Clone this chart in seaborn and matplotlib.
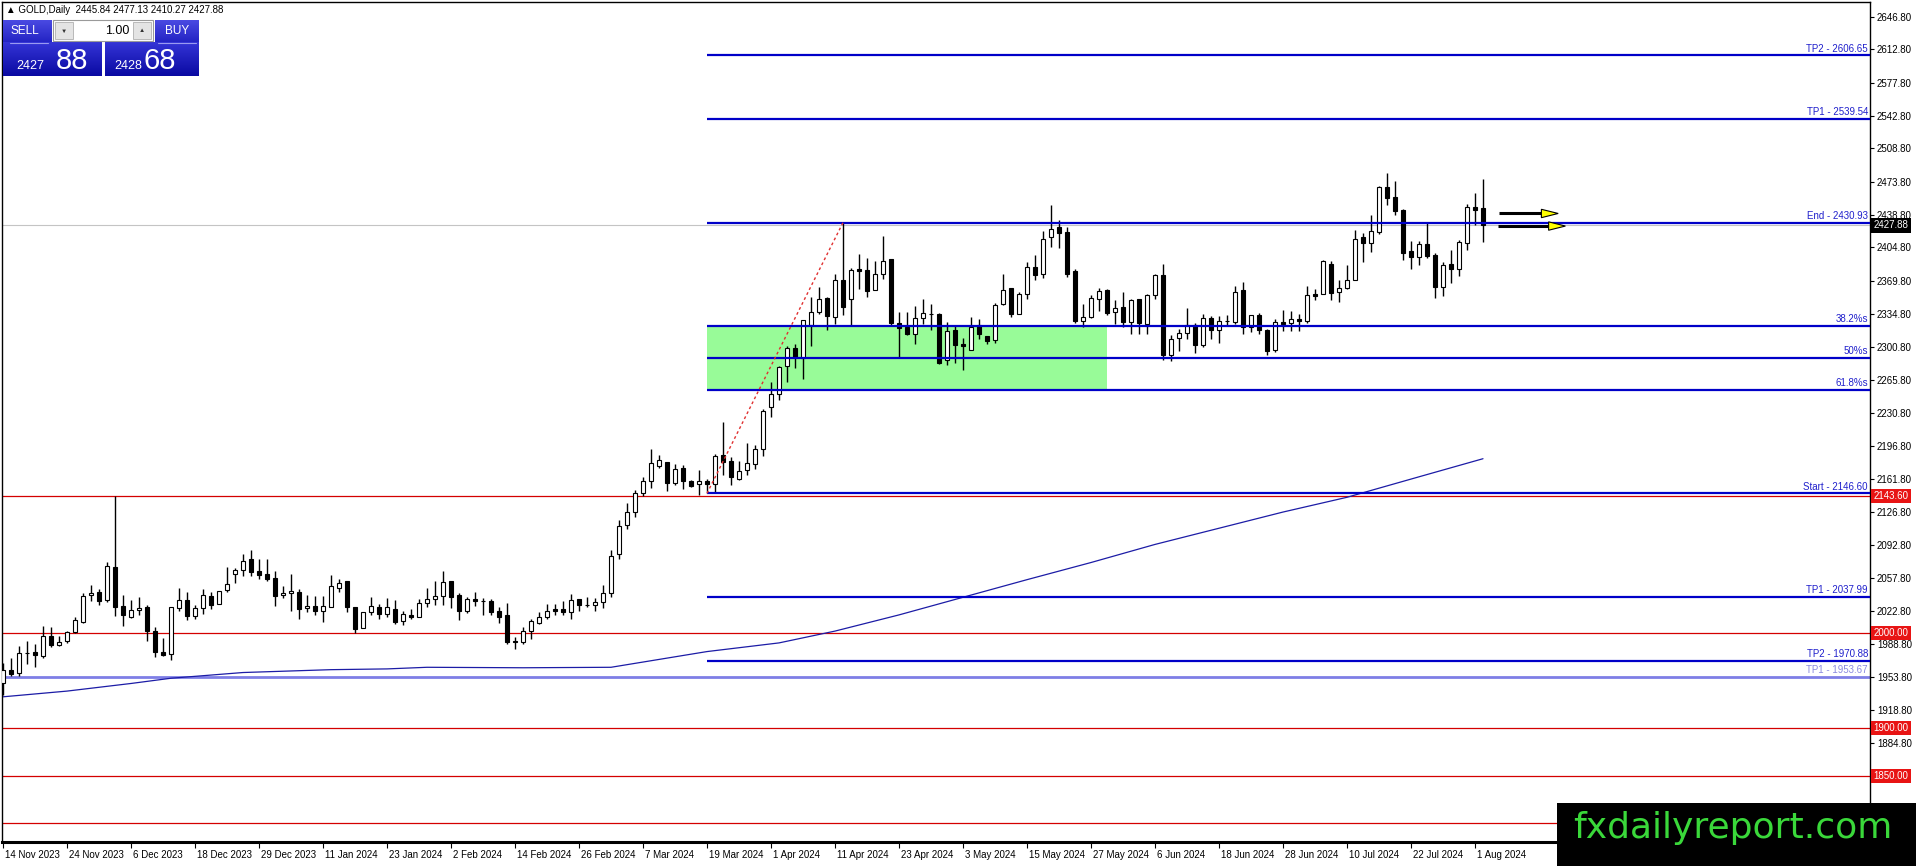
import numpy as np
import matplotlib
matplotlib.use('Agg')
import matplotlib.pyplot as plt
from matplotlib.patches import Rectangle, Polygon
from matplotlib.colors import LinearSegmentedColormap
import matplotlib.transforms as mtransforms
import seaborn as sns

# ---------------- data ----------------
opens = [1947.0, 1961.2, 1957.7, 1979.5, 1979.8, 1975.6, 1997.3, 1987.5, 1991.3, 2000.8,
         2012.0, 2040.0, 2043.5, 2034.8, 2069.8, 2028.5, 2017.3, 2023.9, 2027.8, 2002.2,
         1980.5, 1978.0, 2026.0, 2035.1, 2018.0, 2026.7, 2039.3, 2030.6, 2045.3, 2061.8,
         2066.0, 2077.2, 2064.9, 2062.1, 2057.9, 2039.7, 2042.2, 2043.5, 2026.4, 2028.8,
         2022.9, 2027.1, 2047.1, 2054.1, 2027.8, 2005.0, 2022.0, 2027.8, 2020.1, 2025.0,
         2012.1, 2019.0, 2017.0, 2031.4, 2035.5, 2039.0, 2054.1, 2040.1, 2022.6, 2035.2,
         2034.1, 2034.1, 2022.6, 2019.4, 1992.1, 1990.3, 2002.3, 2010.3, 2016.6, 2024.7,
         2024.7, 2022.2, 2035.2, 2029.6, 2029.1, 2032.7, 2042.2, 2083.2, 2113.7, 2127.3,
         2146.9, 2159.2, 2175.7, 2179.9, 2157.8, 2173.5, 2159.5, 2156.7, 2159.9, 2156.7,
         2186.5, 2180.2, 2162.0, 2170.7, 2177.8, 2193.5, 2237.3, 2250.6, 2280.0, 2299.7,
         2289.2, 2323.1, 2337.1, 2352.2, 2331.9, 2371.1, 2351.1, 2382.0, 2381.6, 2359.9,
         2377.4, 2392.5, 2325.6, 2321.4, 2313.7, 2331.2, 2334.7, 2334.7, 2286.4, 2318.6,
         2303.2, 2297.6, 2323.1, 2312.3, 2308.1, 2345.9, 2362.7, 2335.4, 2356.4, 2384.4,
         2376.7, 2416.0, 2425.8, 2421.2, 2379.9, 2327.7, 2331.9, 2351.2, 2359.9, 2337.5,
         2342.4, 2326.6, 2350.5, 2324.9, 2354.6, 2375.6, 2291.6, 2309.8, 2315.1, 2323.8,
         2302.8, 2331.2, 2317.9, 2327.3, 2326.6, 2359.9, 2321.4, 2333.6, 2318.6, 2296.8,
         2326.9, 2325.6, 2330.1, 2327.7, 2355.7, 2356.4, 2387.9, 2358.1, 2362.7, 2370.4,
         2415.9, 2409.6, 2421.2, 2468.5, 2458.0, 2444.0, 2401.2, 2394.9, 2408.2, 2396.7,
         2363.4, 2387.2, 2382.7, 2409.6, 2446.8, 2445.84]
highs = [1969.0, 1973.8, 1986.8, 1992.1, 1988.6, 2007.1, 2006.1, 1997.3, 2002.6, 2017.3,
         2042.5, 2050.9, 2046.4, 2074.4, 2143.4, 2040.0, 2034.8, 2038.3, 2029.9, 2006.8,
         1994.9, 2027.4, 2047.1, 2043.2, 2029.9, 2046.4, 2042.9, 2044.2, 2069.8, 2068.4,
         2083.1, 2087.3, 2078.2, 2078.2, 2064.9, 2049.5, 2062.1, 2046.4, 2040.0, 2039.3,
         2039.0, 2061.4, 2057.2, 2054.1, 2027.8, 2022.2, 2038.3, 2030.6, 2036.9, 2034.8,
         2023.6, 2025.0, 2035.9, 2047.4, 2055.1, 2064.6, 2054.1, 2041.8, 2038.3, 2042.9,
         2036.9, 2035.9, 2027.1, 2031.3, 1995.6, 2006.1, 2014.9, 2021.9, 2030.6, 2030.6,
         2034.1, 2041.1, 2035.9, 2037.6, 2036.9, 2050.6, 2087.4, 2118.9, 2136.4, 2150.4,
         2163.8, 2193.5, 2186.5, 2179.9, 2177.8, 2176.0, 2160.2, 2171.5, 2161.6, 2187.6,
         2221.5, 2184.8, 2180.2, 2199.5, 2197.0, 2235.0, 2263.6, 2280.0, 2301.0, 2303.9,
         2329.0, 2352.9, 2363.4, 2353.0, 2376.7, 2430.93, 2383.0, 2397.7, 2394.2, 2390.7,
         2416.7, 2392.5, 2336.8, 2336.8, 2343.4, 2351.2, 2345.9, 2335.5, 2326.6, 2323.1,
         2310.2, 2331.9, 2329.4, 2312.3, 2346.6, 2377.4, 2362.7, 2358.2, 2389.7, 2396.7,
         2422.3, 2449.2, 2433.5, 2426.5, 2382.7, 2345.9, 2354.7, 2362.7, 2361.3, 2350.1,
         2358.2, 2350.5, 2350.5, 2356.4, 2377.4, 2387.2, 2312.6, 2319.6, 2341.0, 2325.9,
         2335.4, 2332.6, 2332.6, 2333.6, 2364.1, 2368.6, 2334.3, 2336.1, 2319.3, 2330.1,
         2338.9, 2338.2, 2335.4, 2364.1, 2361.6, 2392.1, 2390.7, 2370.4, 2386.2, 2423.6,
         2420.1, 2438.7, 2469.2, 2483.2, 2474.8, 2444.7, 2411.7, 2411.7, 2430.6, 2399.1,
         2389.7, 2401.9, 2412.4, 2450.3, 2461.5, 2477.13]
lows = [1935.0, 1955.3, 1955.3, 1967.5, 1964.0, 1974.0, 1985.1, 1986.8, 1989.6, 1999.8,
        2010.3, 2033.4, 2029.9, 2032.3, 2018.3, 2007.8, 2015.5, 2018.7, 1992.1, 1974.6,
        1975.6, 1971.7, 2022.9, 2013.8, 2014.8, 2020.1, 2025.7, 2030.6, 2043.5, 2052.3,
        2059.7, 2059.7, 2056.2, 2054.4, 2028.8, 2036.5, 2023.2, 2014.8, 2021.8, 2019.0,
        2011.3, 2027.1, 2043.5, 2022.5, 1999.8, 2005.0, 2019.0, 2014.8, 2017.3, 2009.6,
        2007.9, 2014.9, 2016.6, 2027.1, 2028.9, 2028.9, 2026.4, 2013.8, 2021.2, 2028.5,
        2019.4, 2019.4, 2010.7, 1988.6, 1983.3, 1988.6, 1993.8, 2009.6, 2014.9, 2018.4,
        2018.4, 2014.9, 2022.9, 2027.8, 2022.9, 2026.4, 2038.3, 2077.2, 2108.7, 2121.7,
        2143.4, 2152.5, 2173.5, 2149.0, 2155.0, 2150.8, 2153.2, 2144.5, 2146.6, 2148.0,
        2165.5, 2155.0, 2160.2, 2165.5, 2172.5, 2185.8, 2226.8, 2244.3, 2263.6, 2278.6,
        2267.1, 2301.1, 2335.4, 2318.6, 2324.9, 2333.6, 2323.1, 2361.0, 2352.9, 2359.9,
        2371.8, 2322.0, 2289.9, 2313.0, 2303.9, 2324.9, 2317.9, 2282.8, 2281.1, 2283.5,
        2275.8, 2297.6, 2308.8, 2303.2, 2304.9, 2344.1, 2331.9, 2334.7, 2351.2, 2370.4,
        2373.2, 2405.4, 2404.7, 2373.9, 2325.6, 2321.4, 2331.2, 2338.2, 2333.6, 2324.9,
        2321.4, 2313.7, 2314.4, 2314.4, 2351.1, 2286.3, 2285.6, 2296.1, 2309.1, 2294.0,
        2300.3, 2309.1, 2304.5, 2323.1, 2324.9, 2314.4, 2316.1, 2314.4, 2291.6, 2295.1,
        2317.2, 2317.2, 2317.2, 2325.6, 2349.4, 2355.7, 2349.4, 2347.6, 2361.6, 2370.4,
        2389.7, 2400.2, 2418.7, 2449.2, 2438.7, 2392.1, 2382.7, 2386.2, 2394.2, 2352.2,
        2353.6, 2367.6, 2374.6, 2401.9, 2428.2, 2410.27]
closes = [1961.0, 1957.0, 1979.1, 1978.5, 1977.0, 1997.3, 1987.5, 1991.0, 2000.8, 2013.8,
          2039.0, 2042.5, 2033.4, 2070.5, 2027.1, 2018.7, 2024.6, 2026.7, 2001.9, 1979.8,
          1977.0, 2027.4, 2035.1, 2018.0, 2026.4, 2039.7, 2029.2, 2044.2, 2051.6, 2066.3,
          2075.8, 2063.9, 2060.7, 2057.2, 2039.3, 2042.2, 2044.6, 2025.7, 2028.8, 2022.9,
          2028.5, 2049.5, 2053.0, 2027.1, 2004.0, 2022.2, 2028.1, 2020.1, 2027.8, 2011.4,
          2020.1, 2016.6, 2031.7, 2035.9, 2039.0, 2053.4, 2037.6, 2022.9, 2035.9, 2033.4,
          2033.8, 2022.2, 2017.3, 1990.3, 1990.7, 2002.6, 2012.1, 2017.3, 2022.6, 2022.9,
          2021.9, 2034.8, 2029.6, 2029.4, 2032.7, 2042.2, 2081.1, 2112.6, 2126.6, 2146.9,
          2159.2, 2178.1, 2182.0, 2157.8, 2172.5, 2159.5, 2153.9, 2159.2, 2156.0, 2185.5,
          2179.5, 2163.7, 2169.7, 2178.8, 2193.5, 2232.7, 2250.6, 2279.3, 2299.7, 2289.9,
          2328.4, 2337.1, 2351.2, 2332.6, 2371.1, 2342.4, 2381.6, 2380.2, 2359.2, 2377.4,
          2390.7, 2325.6, 2320.7, 2314.4, 2331.2, 2336.1, 2334.5, 2283.9, 2317.2, 2302.1,
          2301.1, 2321.4, 2313.7, 2306.7, 2344.8, 2359.9, 2335.4, 2356.4, 2384.4, 2375.7,
          2414.2, 2424.7, 2419.5, 2377.4, 2327.7, 2331.9, 2352.2, 2359.2, 2336.1, 2341.3,
          2326.6, 2349.4, 2325.9, 2354.6, 2375.6, 2291.6, 2309.1, 2315.4, 2323.8, 2302.8,
          2331.2, 2317.9, 2327.7, 2327.7, 2358.1, 2321.4, 2333.6, 2318.6, 2296.1, 2326.6,
          2324.9, 2330.1, 2327.7, 2354.6, 2354.3, 2390.4, 2357.1, 2362.7, 2370.4, 2414.2,
          2409.6, 2421.9, 2468.5, 2456.9, 2443.3, 2399.1, 2394.9, 2408.2, 2395.6, 2363.4,
          2386.2, 2382.3, 2410.7, 2446.8, 2444.0, 2427.88]

# moving average read at a set of bar positions
ma_idx = [0, 8, 16, 21, 30, 41, 48, 53, 65, 76, 80, 88, 97, 104, 112, 120, 128, 136,
          144, 152, 160, 168, 177, 185]
ma_vals = [1933, 1939, 1947, 1952.5, 1958.5, 1961.5, 1962.3, 1964, 1963.5, 1964,
           1969.5, 1980.5, 1989.6, 2002, 2019, 2037.5, 2056, 2074, 2093, 2110, 2127,
           2142.5, 2164, 2183]

date_tick_idx = list(range(0, 185, 8))
date_labels = ["14 Nov 2023", "24 Nov 2023", "6 Dec 2023", "18 Dec 2023", "29 Dec 2023",
               "11 Jan 2024", "23 Jan 2024", "2 Feb 2024", "14 Feb 2024", "26 Feb 2024",
               "7 Mar 2024", "19 Mar 2024", "1 Apr 2024", "11 Apr 2024", "23 Apr 2024",
               "3 May 2024", "15 May 2024", "27 May 2024", "6 Jun 2024", "18 Jun 2024",
               "28 Jun 2024", "10 Jul 2024", "22 Jul 2024", "1 Aug 2024"]

price_ticks = [2646.80, 2612.80, 2577.80, 2542.80, 2508.80, 2473.80, 2438.80, 2404.80,
               2369.80, 2334.80, 2300.80, 2265.80, 2230.80, 2196.80, 2161.80, 2126.80,
               2092.80, 2057.80, 2022.80, 1988.80, 1953.80, 1918.80, 1884.80]

red_levels = [2143.60, 2000.00, 1900.00, 1850.00, 1800.00]
red_labelled = [2143.60, 2000.00, 1900.00, 1850.00]
bid_price = 2427.88
lavender_level = 1953.67
lavender_label = "TP1 - 1953.67"

fib_start_idx, fib_end_idx = 88, 105
fib_start, fib_end = 2146.60, 2430.93
fib_levels = [2322.32, 2288.77, 2255.21]
fib_labels = ["38.2%s", "50%s", "61.8%s"]
zone_end_idx = 138

target_levels = [2606.65, 2539.54, 2430.93, 2146.60, 2037.99, 1970.88]
target_labels = ["TP2 - 2606.65", "TP1 - 2539.54", "End - 2430.93", "Start - 2146.60",
                 "TP1 - 2037.99", "TP2 - 1970.88"]

arrow_levels = [2440.5, 2427.3]
arrow_start = [187.0, 186.9]
arrow_tip = [194.4, 195.3]

header_text = "\u25B2 GOLD,Daily  2445.84 2477.13 2410.27 2427.88"

# ---------------- figure ----------------
sns.set_style('white')
plt.rcParams['font.family'] = ['Liberation Sans', 'DejaVu Sans']

W, H = 1916, 866
fig = plt.figure(figsize=(W / 100, H / 100), dpi=100)
fig.patch.set_facecolor('white')
ax = fig.add_axes([2 / W, 24 / H, 1868 / W, 840 / H])
X_LEFT, X_RIGHT = -0.125, 233.375
Y_BOTTOM, Y_TOP = 1780.55, 2662.55

o = np.array(opens); h = np.array(highs); l = np.array(lows); c = np.array(closes)
idx = np.arange(len(o))

# green retracement zone
ax.fill_between([fib_start_idx, zone_end_idx], fib_levels[2], fib_levels[0],
                color='#98fb98', lw=0, zorder=1)

# horizontal reference lines
ax.hlines(red_levels, X_LEFT, X_RIGHT, colors='#d40000', lw=0.9, zorder=2)
ax.axhline(bid_price, color='#c4c4c4', lw=0.8, zorder=2)
ax.axhline(lavender_level, color='#7e7ee6', lw=2.0, zorder=2)

# moving average
sns.lineplot(x=ma_idx, y=ma_vals, ax=ax, color='#1c1ca6', lw=0.9, zorder=2)

# candles
up = c >= o
ax.vlines(idx, l, h, colors='black', lw=1.0, zorder=3)
ax.bar(idx, np.abs(c - o), bottom=np.minimum(o, c), width=0.62,
       color=['white' if u else 'black' for u in up], edgecolor='black',
       linewidth=0.8, zorder=4)

# fib / target lines
ax.hlines(target_levels + fib_levels, fib_start_idx, X_RIGHT, colors='#0000c8',
          lw=1.6, zorder=5)
ax.plot([fib_start_idx, fib_end_idx], [fib_start, fib_end], color='#e03030',
        ls=(0, (2, 2)), lw=1.0, zorder=5)

ytr = ax.get_yaxis_transform()
for lv, lb in zip(target_levels + fib_levels, target_labels + fib_labels):
    ax.annotate(lb, xy=(1, lv), xycoords=ytr, xytext=(-1.5, 1.2),
                textcoords='offset points', ha='right', va='bottom', fontsize=7,
                color='#2020cc', zorder=6)
ax.annotate(lavender_label, xy=(1, lavender_level), xycoords=ytr, xytext=(-1.5, 1.2),
            textcoords='offset points', ha='right', va='bottom', fontsize=7,
            color='#8a8ae0', zorder=6)

# arrows
for lv, x0, xt in zip(arrow_levels, arrow_start, arrow_tip):
    base = xt - 2.1
    ax.plot([x0, base], [lv, lv], color='black', lw=2.2, solid_capstyle='butt', zorder=6)
    ax.add_patch(Polygon([[base, lv + 4.4], [xt, lv], [base, lv - 4.4]], closed=True,
                         fc='#ffff00', ec='black', lw=0.8, zorder=7))

ax.set_xlim(X_LEFT, X_RIGHT)
ax.set_ylim(Y_BOTTOM, Y_TOP)
ax.set_facecolor('white')

# axes / ticks
ax.yaxis.tick_right()
ax.set_yticks(price_ticks)
ax.set_yticklabels([f"{v:.2f}" for v in price_ticks])
ax.tick_params(axis='y', which='both', right=True, left=False, labelright=True,
               labelleft=False, length=3, width=0.8, pad=2, labelsize=7, colors='black')
ax.set_xticks(date_tick_idx)
ax.set_xticklabels(date_labels)
ax.tick_params(axis='x', bottom=True, length=4, width=0.8, pad=1.5, labelsize=7,
               colors='black')
offset = mtransforms.ScaledTranslation(2 / 100, 0, fig.dpi_scale_trans)
for lbl in ax.get_xticklabels():
    lbl.set_ha('left')
    lbl.set_transform(lbl.get_transform() + offset)
for sp in ax.spines.values():
    sp.set_color('black'); sp.set_linewidth(1.0); sp.set_visible(True)
ax.spines['bottom'].set_linewidth(2.2)
ax.set_xlabel(''); ax.set_ylabel('')
ax.grid(False)

for v in red_labelled:
    ax.annotate(f"{v:.2f}", xy=(1, v), xycoords=ytr, xytext=(2.6, 0),
                textcoords='offset points', ha='left', va='center', fontsize=7,
                color='white', annotation_clip=False, zorder=10,
                bbox=dict(boxstyle='square,pad=0.22', fc='#e81414', ec='none'))
ax.annotate(f"{bid_price:.2f}", xy=(1, bid_price), xycoords=ytr, xytext=(2.6, 0),
            textcoords='offset points', ha='left', va='center', fontsize=7,
            color='white', annotation_clip=False, zorder=10,
            bbox=dict(boxstyle='square,pad=0.22', fc='black', ec='none'))

# ---------------- overlay: trade panel, header, watermark ----------------
ov = fig.add_axes([0, 0, 1, 1], zorder=20)
ov.set_xlim(0, W); ov.set_ylim(H, 0); ov.axis('off')

ov.text(6, 10, header_text, fontsize=7, va='center', ha='left', color='black')

grad = np.linspace(0, 1, 50).reshape(-1, 1)
cm_head = LinearSegmentedColormap.from_list('h', ['#4a4ae2', '#2424c4'])
cm_box = LinearSegmentedColormap.from_list('b', ['#3434d6', '#0a0aa2'])
for (x0, x1, y0, y1, cm) in [(3, 52, 20, 42, cm_head), (155, 199, 20, 42, cm_head),
                             (3, 102, 42, 76, cm_box), (105, 199, 42, 76, cm_box)]:
    ov.imshow(grad, extent=(x0, x1, y1, y0), cmap=cm, aspect='auto', zorder=1)
ov.plot([10, 48], [42.5, 42.5], color='#9a9af0', lw=0.8, zorder=2)
ov.plot([158, 196], [42.5, 42.5], color='#9a9af0', lw=0.8, zorder=2)
ov.add_patch(Rectangle((53, 20), 100, 21, fc='white', ec='#9a9a9a', lw=0.8, zorder=2))
ov.add_patch(Rectangle((55, 22), 18, 17, fc='#e4e4e4', ec='#b0b0b0', lw=0.6, zorder=3))
ov.add_patch(Rectangle((133, 22), 18, 17, fc='#e4e4e4', ec='#b0b0b0', lw=0.6, zorder=3))
ov.text(64, 31, "\u25BC", fontsize=4.5, ha='center', va='center', color='#333333', zorder=4)
ov.text(142, 31, "\u25B2", fontsize=4.5, ha='center', va='center', color='#333333', zorder=4)
ov.text(129, 31, "1.00", fontsize=9, ha='right', va='center', color='black', zorder=4)
ov.text(25, 31, "SELL", fontsize=8.5, ha='center', va='center', color='white', zorder=4)
ov.text(177, 31, "BUY", fontsize=8.5, ha='center', va='center', color='white', zorder=4)
ov.text(16, 69, "2427", fontsize=9, ha='left', va='baseline', color='white', zorder=4)
ov.text(56, 69, "88", fontsize=21, ha='left', va='baseline', color='white', zorder=4)
ov.text(114, 69, "2428", fontsize=9, ha='left', va='baseline', color='white', zorder=4)
ov.text(144, 69, "68", fontsize=21, ha='left', va='baseline', color='white', zorder=4)

ov.add_patch(Rectangle((1557, 803), W - 1557, H - 803, fc='black', ec='none', zorder=5))
ov.text(1573, 838, "fxdailyreport.com", fontsize=26, family='DejaVu Sans',
        ha='left', va='baseline', color='#3ad83a', zorder=6)

ov.set_xlim(0, W); ov.set_ylim(H, 0)
fig.savefig('out.png', dpi=100, facecolor='white')
